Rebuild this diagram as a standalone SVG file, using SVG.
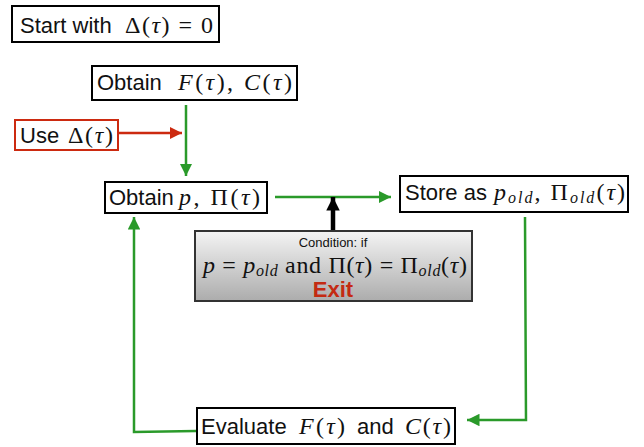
<svg xmlns="http://www.w3.org/2000/svg" width="644" height="447" viewBox="0 0 644 447">
<defs>
<style>
.box{fill:#fff;stroke:#000;stroke-width:2}
.sans{font-family:"Liberation Sans",Arial,sans-serif;font-size:22px;fill:#111}
.math{font-family:"Liberation Serif","Times New Roman",serif;font-size:24px;fill:#111}
.it{font-style:italic}
.sub{font-style:italic;font-size:16px}
.g{fill:none;stroke:#2a9a2a;stroke-width:2.5}
.r{fill:none;stroke:#cc2a10;stroke-width:2.5}
</style>
<linearGradient id="grad" x1="0" y1="0" x2="0" y2="1">
<stop offset="0" stop-color="#f4f4f4"/>
<stop offset="1" stop-color="#acacac"/>
</linearGradient>
<marker id="ag" viewBox="0 0 10 10" refX="10" refY="5" markerWidth="5" markerHeight="5" orient="auto" markerUnits="strokeWidth">
<path d="M0,0 L10,5 L0,10 z" fill="#2a9a2a"/>
</marker>
<marker id="ar" viewBox="0 0 10 10" refX="10" refY="5" markerWidth="5" markerHeight="5" orient="auto" markerUnits="strokeWidth">
<path d="M0,0 L10,5 L0,10 z" fill="#cc2a10"/>
</marker>
<marker id="ak" viewBox="0 0 10 10" refX="10" refY="5" markerWidth="3" markerHeight="3.8" orient="auto" markerUnits="strokeWidth">
<path d="M0,0 L10,5 L0,10 z" fill="#000"/>
</marker>
</defs>

<g id="connectors">
<line class="r" x1="118" y1="133" x2="182" y2="133" marker-end="url(#ar)"/>
<line class="g" x1="186" y1="105" x2="186" y2="176" marker-end="url(#ag)"/>
<line class="g" x1="275" y1="197" x2="391" y2="197" marker-end="url(#ag)"/>
<polyline class="g" points="525,217 526,420 467,420" marker-end="url(#ag)"/>
<polyline class="g" points="196,431 134,432 134,217" marker-end="url(#ag)"/>
<line x1="333" y1="231" x2="333" y2="197" stroke="#000" stroke-width="4.5" marker-end="url(#ak)"/>
</g>

<g id="start">
<rect class="box" x="12" y="6" width="207" height="36"/>
<text class="sans" x="20" y="33">Start with</text>
<text class="math" x="125" y="33" textLength="88" lengthAdjust="spacing">Δ(<tspan class="it">τ</tspan>) = 0</text>
</g>

<g id="obtainFC">
<rect class="box" x="92" y="66" width="205" height="34"/>
<text class="sans" x="97" y="90">Obtain</text>
<text class="math" x="178" y="90" textLength="114" lengthAdjust="spacing"><tspan class="it">F</tspan>(<tspan class="it">τ</tspan>),  <tspan class="it">C</tspan>(<tspan class="it">τ</tspan>)</text>
</g>

<g id="useDelta">
<rect x="15" y="120" width="103" height="30" fill="#fff" stroke="#cc2a10" stroke-width="2"/>
<text class="sans" x="20" y="143">Use</text>
<text class="math" x="68" y="143" textLength="45" lengthAdjust="spacing">Δ(<tspan class="it">τ</tspan>)</text>
</g>

<g id="obtainP">
<rect class="box" x="105" y="182" width="162" height="31"/>
<text class="sans" x="109" y="205">Obtain</text>
<text class="math" x="179" y="205" textLength="81" lengthAdjust="spacing"><tspan class="it">p</tspan>,  Π(<tspan class="it">τ</tspan>)</text>
</g>

<g id="store">
<rect class="box" x="400" y="176" width="228" height="36"/>
<text class="sans" x="405" y="200">Store as</text>
<text class="math" x="494" y="200" textLength="131" lengthAdjust="spacing"><tspan class="it">p</tspan><tspan class="sub" dy="3">old</tspan><tspan dy="-3">,  Π</tspan><tspan class="sub" dy="3">old</tspan><tspan dy="-3">(</tspan><tspan class="it">τ</tspan>)</text>
</g>

<g id="condition">
<rect x="195" y="231" width="277" height="70" fill="url(#grad)" stroke="#333" stroke-width="2"/>
<text x="333" y="247" text-anchor="middle" font-family="Liberation Sans, Arial, sans-serif" font-size="13" fill="#111">Condition: if</text>
<text class="math" x="203" y="273" textLength="264" lengthAdjust="spacing"><tspan class="it">p</tspan> = <tspan class="it">p</tspan><tspan class="sub" dy="3">old</tspan><tspan dy="-3"> and Π(</tspan><tspan class="it">τ</tspan>) = Π<tspan class="sub" dy="3">old</tspan><tspan dy="-3">(</tspan><tspan class="it">τ</tspan>)</text>
<text x="333" y="297" text-anchor="middle" font-family="Liberation Sans, Arial, sans-serif" font-size="22" font-weight="bold" fill="#c42a12">Exit</text>
</g>

<g id="evaluate">
<rect class="box" x="197" y="408" width="258" height="36"/>
<text class="sans" x="201" y="434">Evaluate</text>
<text class="math" x="299" y="434" textLength="46" lengthAdjust="spacing"><tspan class="it">F</tspan>(<tspan class="it">τ</tspan>)</text>
<text class="sans" x="357" y="434">and</text>
<text class="math" x="405" y="434" textLength="46" lengthAdjust="spacing"><tspan class="it">C</tspan>(<tspan class="it">τ</tspan>)</text>
</g>
</svg>
